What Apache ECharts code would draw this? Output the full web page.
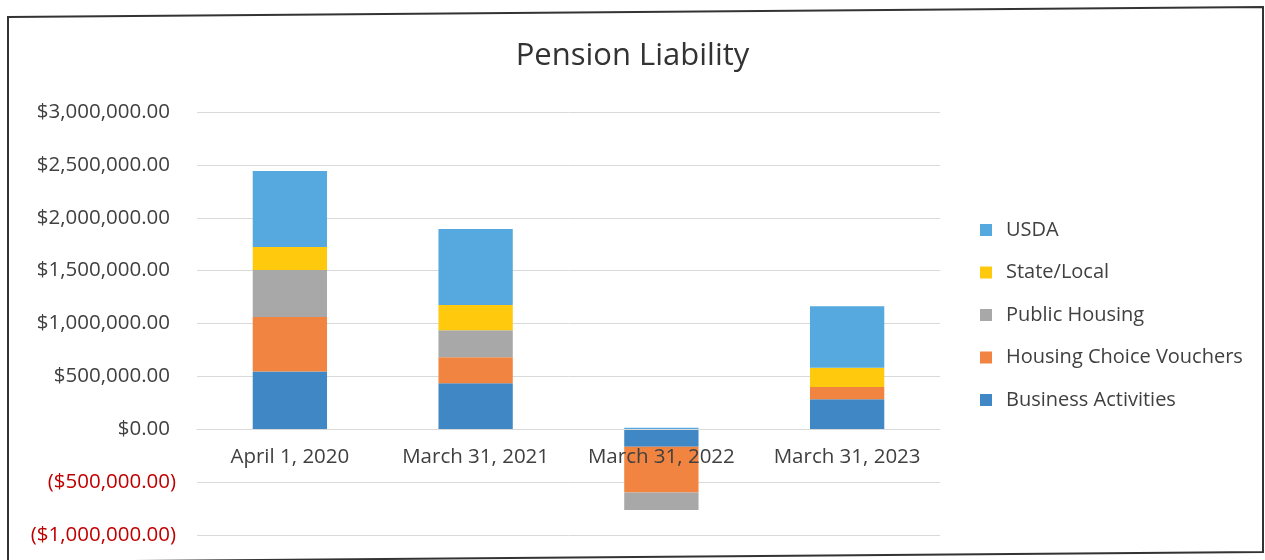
<!DOCTYPE html>
<html>
<head>
<meta charset="utf-8">
<script src="https://cdn.jsdelivr.net/npm/echarts@6/dist/echarts.min.js"></script>
<style>
html,body{margin:0;padding:0;background:#fff;}
#chart{width:1265px;height:560px;}
</style>
</head>
<body>
<div id="chart"></div>
<script>
var categories = ['April 1, 2020', 'March 31, 2021', 'March 31, 2022', 'March 31, 2023'];
var businessActivities = [545000, 436000, -165000, 283000];
var housingChoiceVouchers = [517000, 245000, -434000, 117000];
var publicHousing = [445000, 254000, -165000, 0];
var stateLocal = [217000, 239000, 0, 182000];
var usda = [718000, 719000, 15000, 582000];
var yTicks = { min: -1000000, max: 3000000, interval: 500000 };

var FONT = '"Open Sans"';
var GRID = { left: 197, right: 325, top: 112, bottom: 25 };
var gridHeight = 560 - GRID.top - GRID.bottom;
// move category axis up to the zero line
var zeroOffset = -gridHeight * (0 - yTicks.min) / (yTicks.max - yTicks.min);

function fmt(v) {
  var s = '$' + Math.abs(v).toLocaleString('en-US', {minimumFractionDigits: 2, maximumFractionDigits: 2});
  return v < 0 ? '(' + s + ')' : s + '{h|)}';
}
var chart = echarts.init(document.getElementById('chart'));
function ser(name, data, color) {
  return {
    name: name, type: 'bar', stack: 'total', data: data,
    barCategoryGap: '60%',
    itemStyle: { color: color }
  };
}
chart.setOption({
  animation: false,
  backgroundColor: '#fff',
  title: {
    text: 'Pension Liability', left: 'center', top: 36,
    textStyle: { fontFamily: FONT, fontSize: 31, fontWeight: 'normal', color: '#333' }
  },
  legend: {
    orient: 'vertical', left: 975, top: 215,
    itemWidth: 12, itemHeight: 12, itemGap: 22.5,
    icon: 'rect',
    data: ['USDA', 'State/Local', 'Public Housing', 'Housing Choice Vouchers', 'Business Activities'],
    textStyle: { fontFamily: FONT, fontSize: 20, color: '#404040', lineHeight: 20, padding: [0, 0, 0, 9] }
  },
  grid: { left: GRID.left, right: GRID.right, top: GRID.top, bottom: GRID.bottom, containLabel: false, outerBoundsMode: 'none' },
  xAxis: {
    type: 'category', data: categories, z: 10,
    position: 'bottom', offset: zeroOffset,
    axisLine: { show: true, onZero: false, lineStyle: { color: '#d9d9d9' } },
    axisTick: { show: false },
    axisLabel: { interval: 0, hideOverlap: false, margin: 17, fontFamily: FONT, fontSize: 20.5, color: '#404040' }
  },
  yAxis: {
    type: 'value', min: yTicks.min, max: yTicks.max, interval: yTicks.interval,
    axisLine: { show: false }, axisTick: { show: false },
    splitLine: { lineStyle: { color: '#d9d9d9' } },
    axisLabel: {
      margin: 21, fontFamily: FONT, fontSize: 20.5,
      formatter: fmt,
      color: function (v) { return Number(v) < 0 ? '#C00000' : '#404040'; },
      rich: { h: { color: 'rgba(0,0,0,0)', fontFamily: FONT, fontSize: 20.5 } }
    }
  },
  series: [
    ser('Business Activities', businessActivities, '#3F88C5'),
    ser('Housing Choice Vouchers', housingChoiceVouchers, '#F08440'),
    ser('Public Housing', publicHousing, '#A8A8A8'),
    ser('State/Local', stateLocal, '#FFC90E'),
    ser('USDA', usda, '#56A9DE')
  ],
  graphic: [{
    type: 'polygon', z: 100, silent: true,
    shape: { points: [[8, 17], [1263, 7], [1263, 552], [8, 562]] },
    style: { fill: 'none', stroke: '#333', lineWidth: 2 }
  }]
});
</script>
</body>
</html>
